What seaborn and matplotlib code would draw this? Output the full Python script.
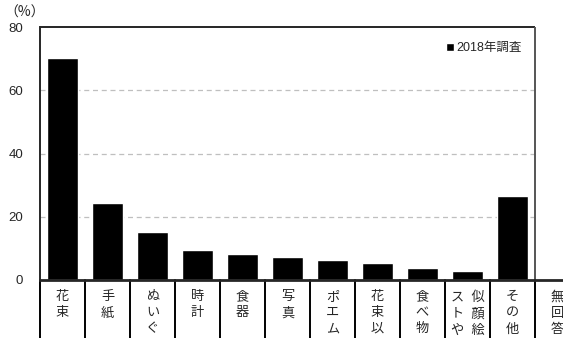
"""Gift survey bar chart (2018)."""

import matplotlib as mpl
import matplotlib.pyplot as plt
import pandas as pd
import seaborn as sns
from matplotlib.patches import Patch

mpl.use("Agg")

CATEGORIES = ["花束", "手紙", "ぬいぐ", "時計", "食器", "写真", "ポエム", "花束以", "食べ物", "似顔絵ストや", "その他", "無回答"]
VALUES_2018 = [70.2, 24.5, 15.1, 9.4, 8.2, 7.4, 6.2, 5.4, 3.7, 2.9, 26.5, 0.0]
Y_TICKS = [0, 20, 40, 60, 80]
SERIES_NAME = "2018年調査"

FIG_W, FIG_H = 563, 338
AX_LEFT, AX_RIGHT, AX_TOP, AX_BOTTOM = 40, 580, 27, 280


def vertical_label(text: str, per_column: int = 3) -> str:
    columns = [text[i:i + per_column] for i in range(0, len(text), per_column)]
    columns = columns[::-1]
    rows = []
    for r in range(per_column):
        rows.append("  ".join(col[r] if r < len(col) else "\u3000" for col in columns).rstrip("\u3000 "))
    return "\n".join(row for row in rows if row)


def main() -> None:
    sns.set_style("white")
    plt.rcParams["font.family"] = ["Liberation Sans", "Noto Sans CJK JP", "DejaVu Sans"]

    df = pd.DataFrame({"category": CATEGORIES, "value": VALUES_2018})

    fig = plt.figure(figsize=(FIG_W / 100, FIG_H / 100), dpi=100)
    ax = fig.add_axes([
        AX_LEFT / FIG_W,
        (FIG_H - AX_BOTTOM) / FIG_H,
        (AX_RIGHT - AX_LEFT) / FIG_W,
        (AX_BOTTOM - AX_TOP) / FIG_H,
    ])

    sns.barplot(data=df, x="category", y="value", color="black", width=0.71, ax=ax, saturation=1)

    n = len(CATEGORIES)
    ax.set_xlim(-0.5, n - 0.5)
    ax.set_ylim(0, Y_TICKS[-1])

    last = n - 1.5
    for y in Y_TICKS[1:-1]:
        ax.hlines(y, -0.5, last, colors="#bfbfbf", linestyles=(0, (4, 3)), linewidth=0.9, zorder=0)
    ax.hlines(Y_TICKS[-1], -0.5, last, colors="black", linewidth=1.2, clip_on=False)
    ax.vlines(last, 0, Y_TICKS[-1], colors="#555555", linewidth=1.4)

    for side in ("top", "right"):
        ax.spines[side].set_visible(False)
    ax.spines["left"].set_linewidth(1.4)
    ax.spines["left"].set_bounds(0, Y_TICKS[-1])
    ax.spines["bottom"].set_linewidth(2)

    ax.set_yticks(Y_TICKS)
    ax.tick_params(axis="y", length=0, pad=12, labelsize=9.5)

    # category boundaries: small ticks above the axis, table lines below
    bounds = [i - 0.5 for i in range(n + 1)]
    ax.set_xticks(bounds, minor=True)
    ax.tick_params(axis="x", which="minor", direction="in", length=3, width=1, color="#444444")
    below = (FIG_H - AX_BOTTOM) / (AX_BOTTOM - AX_TOP)
    trans = ax.get_xaxis_transform()
    for b in bounds:
        ax.plot([b, b], [0, -below - 0.05], transform=trans, color="black", linewidth=1.4, clip_on=False)

    ax.set_xticks(range(n))
    ax.set_xticklabels([vertical_label(c) for c in CATEGORIES], va="top", linespacing=1.45)
    ax.tick_params(axis="x", which="major", length=0, pad=8, labelsize=9.5)

    ax.set_xlabel("")
    ax.set_ylabel("")

    fig.text(4 / FIG_W, 1 - 13 / FIG_H, "（%）", fontsize=10, va="center", ha="left",
             family=["Noto Sans CJK JP", "DejaVu Sans"])

    ax.legend(
        handles=[Patch(facecolor="black", label=SERIES_NAME)],
        loc="center left",
        bbox_to_anchor=((435 - AX_LEFT) / (AX_RIGHT - AX_LEFT), (AX_BOTTOM - 48) / (AX_BOTTOM - AX_TOP)),
        frameon=False,
        fontsize=9,
        handlelength=0.6,
        handleheight=0.6,
        handletextpad=0.2,
    )

    fig.savefig("out.png", dpi=100)


if __name__ == "__main__":
    main()
